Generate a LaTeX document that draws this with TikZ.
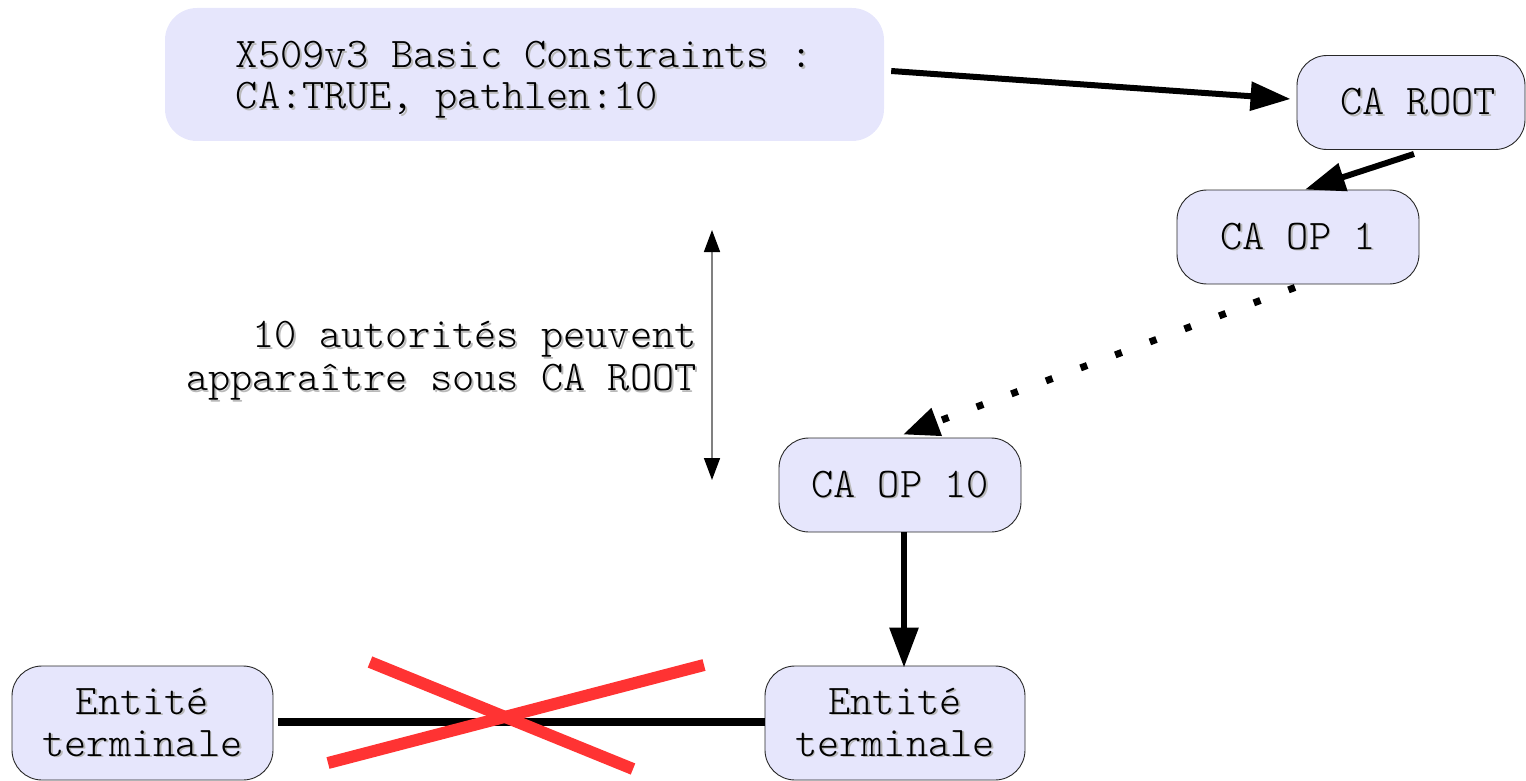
\documentclass[tikz,border=0pt]{standalone}
\usepackage{fontspec}
\setmonofont{Latin Modern Mono Light}
\usetikzlibrary{arrows.meta,calc}
\definecolor{boxfill}{RGB}{230,230,252}
\definecolor{boxline}{RGB}{40,40,40}
\definecolor{shadowgray}{RGB}{185,185,185}
\definecolor{crossred}{RGB}{255,51,51}
\newcommand\shd[1]{\makebox[0pt][l]{\hspace{1.8pt}\raisebox{-1.8pt}{\textcolor{shadowgray}{#1}}}#1}
\newcommand\monofont{\ttfamily\fontsize{42.3}{42}\selectfont}
\tikzset{
  box/.style={draw=boxline, line width=0.9pt, fill=boxfill, rounded corners=30pt,
    minimum width=242pt, minimum height=94pt, inner sep=0pt, align=center,
    font=\monofont},
  bigbox/.style={fill=boxfill, rounded corners=32pt, minimum width=719pt,
    minimum height=133pt, inner sep=0pt},
  bigtext/.style={inner sep=0pt, align=left, font=\ttfamily\fontsize{42.3}{41}\selectfont},
  bigarrow/.style={line width=6pt, -{Triangle[length=40pt,width=28pt]}},
  plain/.style={line width=8pt},
  cross/.style={line width=12pt, draw=crossred},
  measure/.style={draw=gray, line width=1.6pt, {Triangle[length=22pt,width=16pt,fill=black,color=black]}-{Triangle[length=22pt,width=16pt,fill=black,color=black]}},
  lbl/.style={inner sep=0pt, align=right, font=\ttfamily\fontsize{42.3}{43}\selectfont}
}
\begin{document}
\begin{tikzpicture}[x=1pt,y=-1pt]
\useasboundingbox (0,0) rectangle (1526,781);
\node[bigbox] (bc) at (524.5,74.5) {};
\node[bigtext] (bctext) at ($(bc.center)+(0,6)$) {\shd{X509v3 Basic Constraints :}\\\shd{CA:TRUE, pathlen:10}};
\node[box, minimum width=228pt] (root) at (1411,102.5) {\hspace{14pt}\shd{CA ROOT}};
\node[box] (op1) at (1298,237) {\shd{CA OP 1}};
\node[box] (op10) at (900,485) {\shd{CA OP 10}};
\node[box, minimum width=261pt, minimum height=114pt] (et1) at (142.5,723) {\shd{Entité}\\\shd{terminale}};
\node[box, minimum width=260pt, minimum height=114pt] (et2) at (895,723) {\shd{Entité}\\\shd{terminale}};
\node[lbl, anchor=east] (txt) at (697,362) {\shd{10 autorités peuvent}\\\shd{apparaître sous CA ROOT}};
\coordinate (mtop) at (712,230);
\coordinate (mbot) at (712,480);
\draw[bigarrow] ($(bc.east)+(7,-3.5)$) -- ($(root.west)+(-6,-3.5)$);
\draw[bigarrow] ($(root.south)+(3,4)$) -- ($(op1.north)+(7,0)$);
\draw[line width=7pt, dash pattern=on 7pt off 30pt, -{Triangle[length=36pt,width=28pt]}] ($(op1.south)+(-3,3)$) -- ($(op10.north)+(3,-3)$);
\draw[bigarrow] ($(op10.south)+(4,0)$) -- ($(op10.south |- et2.north)+(4,2)$);
\draw[plain] ($(et1.east)+(5,-1)$) -- ($(et2.west)+(0,-1)$);
\draw[cross] (370,662) -- (633,769);
\draw[cross] (328,763) -- (704,665);
\draw[measure] (mtop) -- (mbot);
\end{tikzpicture}
\end{document}
